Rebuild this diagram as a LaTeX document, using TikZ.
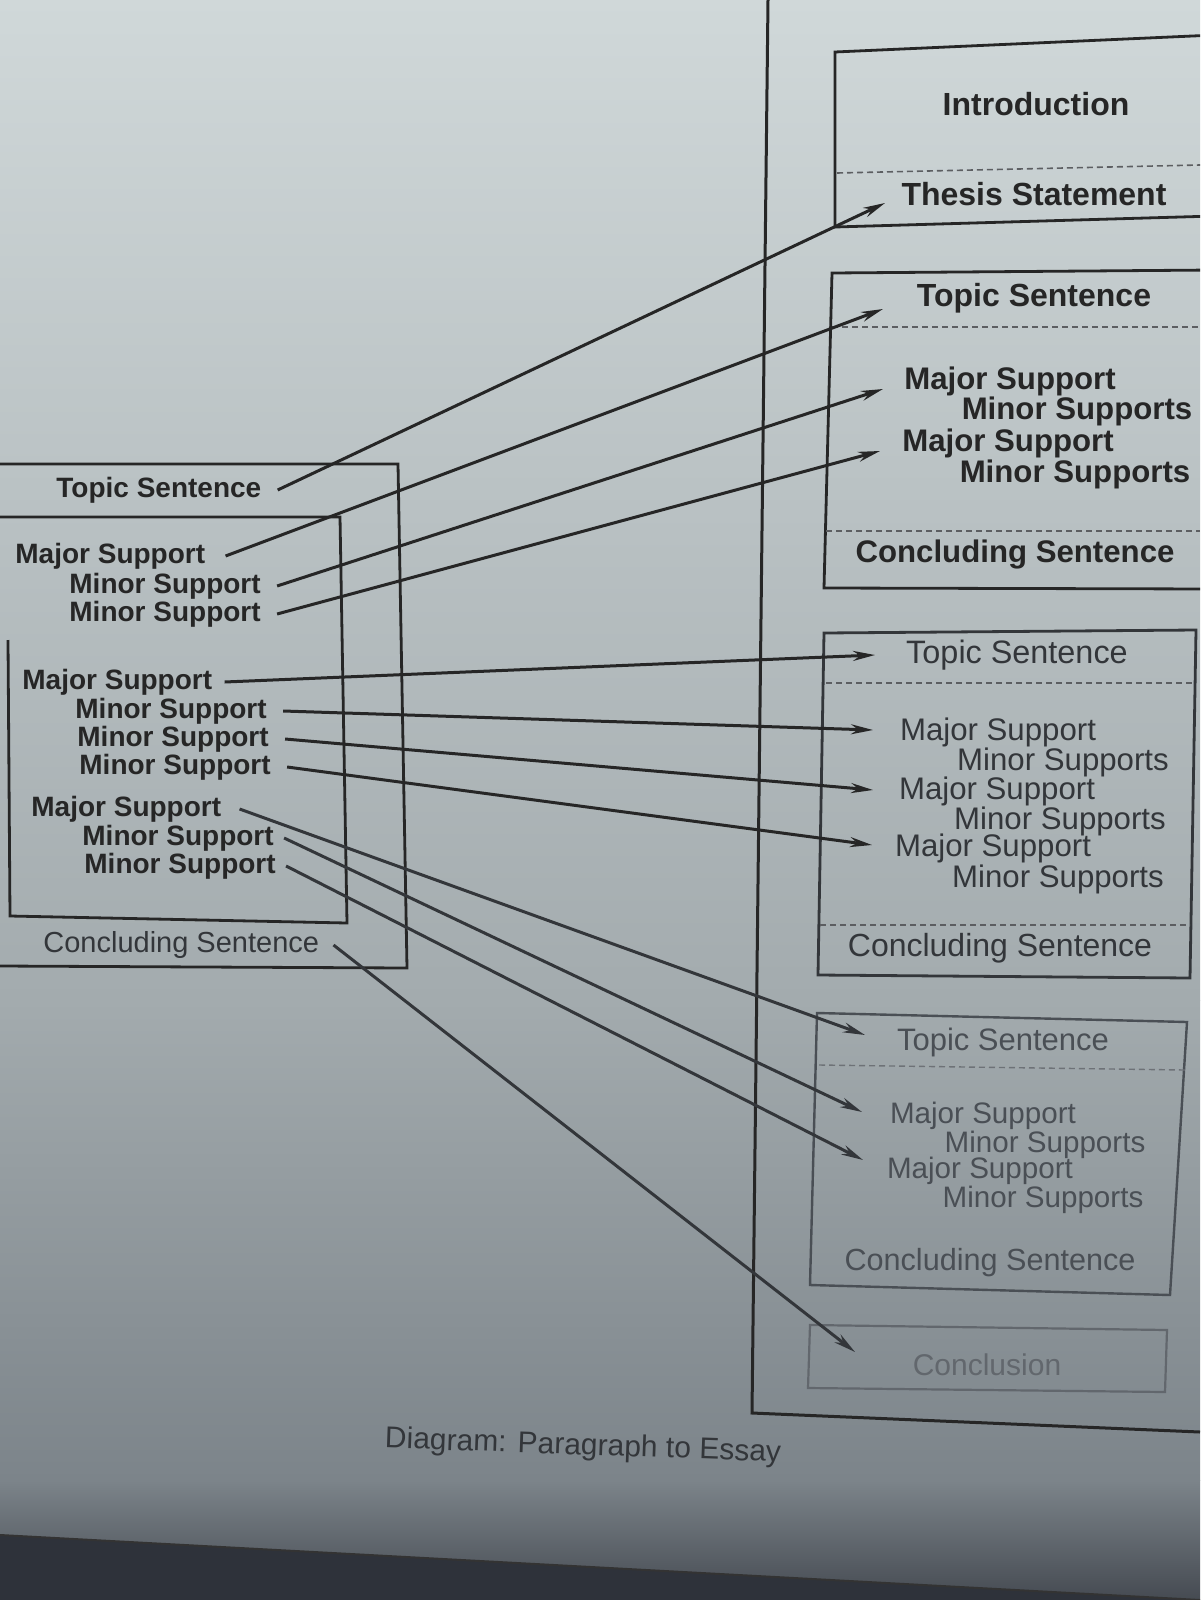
\documentclass[tikz,border=0pt]{standalone}
\usepackage{fontspec}
\setmainfont{Liberation Sans}
\usetikzlibrary{arrows.meta}
\definecolor{bgTop}{HTML}{D0D8D9}
\definecolor{bgMid}{HTML}{A3ABAE}
\definecolor{bgLow}{HTML}{7C848A}
\definecolor{bgDark}{HTML}{2E323A}
\definecolor{inkA}{HTML}{262626}
\definecolor{inkB}{HTML}{33363A}
\definecolor{inkC}{HTML}{4A4F55}
\definecolor{inkD}{HTML}{62676D}
\begin{document}
\begin{tikzpicture}[x=0.5pt,y=-0.5pt,
  boxA/.style={line width=1.4pt, draw=inkA},
  boxC/.style={line width=1.2pt, draw=inkC},
  boxD/.style={line width=1.1pt, draw=inkD},
  dashA/.style={line width=0.8pt, draw=inkB!80, dash pattern=on 3pt off 2pt},
  dashC/.style={line width=0.7pt, draw=inkC!80, dash pattern=on 3pt off 2pt},
  lt/.style={anchor=west, inner sep=0pt, text=inkA, font=\fontsize{14}{14}\selectfont\bfseries},
  ltr/.style={anchor=west, inner sep=0pt, text=inkB, font=\fontsize{14.5}{14.5}\selectfont},
  rtA/.style={inner sep=0pt, text=inkA, font=\fontsize{15.6}{15.6}\selectfont\bfseries},
  rtB/.style={inner sep=0pt, text=inkB, font=\fontsize{15.6}{15.6}\selectfont},
  rtC/.style={inner sep=0pt, text=inkC, font=\fontsize{14.8}{14.8}\selectfont},
  rtD/.style={inner sep=0pt, text=inkD, font=\fontsize{15}{15}\selectfont},
  conn/.style={line width=1.5pt, draw=#1, -{Stealth[length=11pt,width=5pt]}},
  conn/.default=inkA]

\useasboundingbox (0,0) rectangle (1200,1600);
\clip (0,0) rectangle (1200,1600);

% photo background
\shade[top color=bgTop, bottom color=bgMid] (0,0) rectangle (1200,1000);
\shade[top color=bgMid, bottom color=bgLow] (0,1000) rectangle (1200,1480);
\shade[top color=bgLow, bottom color=bgDark!70!bgLow] (0,1480) rectangle (1200,1600);
\fill[bgDark] (0,1535) -- (1200,1600) -- (0,1600) -- cycle;
\draw[line width=1pt, draw=black!80] (0,1535) -- (1200,1600);

% page border lines
\draw[line width=1.5pt, draw=inkA] (768,0) -- (752,1413) -- (1200,1432);

% essay boxes
\draw[boxA] (1215,35) -- (835,52) -- (835,227) -- (1215,216);
\draw[dashA] (837,173) -- (1200,165);
\draw[boxA] (1215,270) -- (832,273) -- (824,588) -- (1215,589);
\draw[dashA] (832,327) -- (1200,327);
\draw[dashA] (826,531) -- (1200,531);
\draw[boxA, draw=inkB] (824,633) -- (1196,630) -- (1190,978) -- (818,975) -- cycle;
\draw[dashA] (826,683) -- (1194,683);
\draw[dashA] (820,925) -- (1190,925);
\draw[boxC] (817,1013) -- (1187,1022) -- (1170,1295) -- (810,1285) -- cycle;
\draw[dashC] (819,1065) -- (1185,1070);
\draw[boxD] (810,1325) -- (1167,1330) -- (1165,1392) -- (808,1388) -- cycle;

% paragraph box
\draw[boxA] (0,464) -- (398,464) -- (407,968) -- (0,966);
\draw[boxA] (0,517) -- (340,517) -- (347,923) -- (10,916) -- (8,640);

% essay texts
\node[rtA, font=\fontsize{16}{16}\selectfont\bfseries] (intro) at (1036,104) {Introduction};
\node[rtA, font=\fontsize{16}{16}\selectfont\bfseries] (thesis) at (1034,194) {Thesis Statement};
\node[rtA, font=\fontsize{16}{16}\selectfont\bfseries] (b2ts) at (1034,298) {Topic Sentence};
\node[rtA] (b2m1) at (1010,381) {Major Support};
\node[rtA] (b2n1) at (1077,411) {Minor Supports};
\node[rtA] (b2m2) at (1008,443) {Major Support};
\node[rtA] (b2n2) at (1075,474) {Minor Supports};
\node[rtA] (b2cs) at (1015,554) {Concluding Sentence};

\node[rtB, font=\fontsize{16.2}{16.2}\selectfont] (b3ts) at (1017,655) {Topic Sentence};
\node[rtB] (b3m1) at (998,732) {Major Support};
\node[rtB] (b3n1) at (1063,762) {Minor Supports};
\node[rtB] (b3m2) at (997,791) {Major Support};
\node[rtB] (b3n2) at (1060,821) {Minor Supports};
\node[rtB] (b3m3) at (993,848) {Major Support};
\node[rtB] (b3n3) at (1058,879) {Minor Supports};
\node[rtB, font=\fontsize{16}{16}\selectfont] (b3cs) at (1000,948) {Concluding Sentence};

\node[rtC, font=\fontsize{15.5}{15.5}\selectfont] (b4ts) at (1003,1042) {Topic Sentence};
\node[rtC] (b4m1) at (983,1116) {Major Support};
\node[rtC] (b4n1) at (1045,1145) {Minor Supports};
\node[rtC] (b4m2) at (980,1171) {Major Support};
\node[rtC] (b4n2) at (1043,1200) {Minor Supports};
\node[rtC, font=\fontsize{15.3}{15.3}\selectfont] (b4cs) at (990,1263) {Concluding Sentence};

\node[rtD] (concl) at (987,1365) {Conclusion};

% paragraph texts
\node[lt] (lts) at (56,490) {Topic Sentence};
\node[lt] (lm1) at (15,556) {Major Support};
\node[lt] (ln11) at (69,586) {Minor Support};
\node[lt] (ln12) at (69,614) {Minor Support};
\node[lt] (lm2) at (22,682) {Major Support};
\node[lt] (ln21) at (75,711) {Minor Support};
\node[lt] (ln22) at (77,739) {Minor Support};
\node[lt] (ln23) at (79,767) {Minor Support};
\node[lt] (lm3) at (31,809) {Major Support};
\node[lt] (ln31) at (82,838) {Minor Support};
\node[lt] (ln32) at (84,866) {Minor Support};
\node[ltr] (lcs) at (43,945) {Concluding Sentence};

% caption
\node[inner sep=0pt, text=inkB, font=\fontsize{15}{15}\selectfont, rotate=-2] (cap) at (583,1447) {Diagram: Paragraph to Essay};

% arrow tips
\coordinate (t1) at (885,203);
\coordinate (t2) at (883,309);
\coordinate (t3) at (883,389);
\coordinate (t4) at (880,451);
\coordinate (t5) at (875,655);
\coordinate (t6) at (873,730);
\coordinate (t7) at (873,790);
\coordinate (t8) at (872,845);
\coordinate (t9) at (865,1035);
\coordinate (t10) at (862,1112);
\coordinate (t11) at (863,1160);
\coordinate (t12) at (855,1352);

% connectors
\draw[conn] ([xshift=8pt]lts.east) -- (t1);
\draw[conn] ([xshift=10pt]lm1.east) -- (t2);
\draw[conn] ([xshift=8pt]ln11.east) -- (t3);
\draw[conn] ([xshift=8pt]ln12.east) -- (t4);
\draw[conn] ([xshift=6pt]lm2.east) -- (t5);
\draw[conn] ([xshift=8pt]ln21.east) -- (t6);
\draw[conn] ([xshift=8pt]ln22.east) -- (t7);
\draw[conn] ([xshift=8pt]ln23.east) -- (t8);
\draw[conn=inkB] ([xshift=9pt]lm3.east) -- (t9);
\draw[conn=inkB] ([xshift=5pt]ln31.east) -- (t10);
\draw[conn=inkB] ([xshift=5pt]ln32.east) -- (t11);
\draw[conn=inkB] ([xshift=7pt]lcs.east) -- (t12);
\end{tikzpicture}
\end{document}
